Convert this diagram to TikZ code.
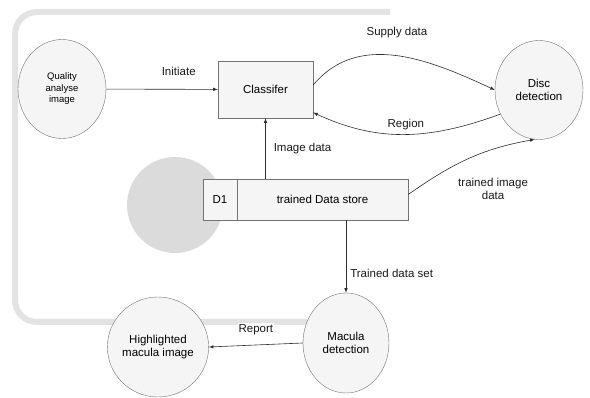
\documentclass[tikz,border=0pt]{standalone}
\usepackage{fontspec}
\setmainfont{Liberation Sans}
\usetikzlibrary{arrows,shapes.geometric}
\tikzset{
	proc/.style={ellipse,draw=gray!90!black,fill=gray!8,minimum width=88pt,minimum height=99pt,align=center,inner sep=0pt},
	box/.style={rectangle,draw=gray!90!black,fill=gray!8,minimum height=41pt,inner sep=0pt},
	lbl/.style={fill=white,inner sep=1pt,text=gray!20!black},
	flow/.style={->,draw=gray!35!black,line width=0.6pt}
}
\begin{document}
\begin{tikzpicture}[x=1pt,y=-1pt,font=\fontsize{11.5}{13.5}\selectfont,>=latex]
	\useasboundingbox (0,0) rectangle (590,398);
	% faint backdrop
	\draw [gray!22,line width=6pt,rounded corners=22pt] (390,12) -- (15,12) -- (15,322) -- (310,322);
	\fill [gray!28] (175,205) circle (48pt);
	%
	\node [proc,font=\fontsize{9.5}{11.5}\selectfont] (qai) at (62,89) {Quality\\analyse\\image};
	\node [box,minimum width=95pt,minimum height=57pt] (cls) at (265.5,89.5) {Classifer};
	\node [proc] (disc) at (539,90) {Disc\\detection};
	\node [box,minimum width=34pt] (d1) at (220,199.5) {D1};
	\node [box,minimum width=171pt] (store) at (322.5,199.5) {trained Data store};
	\node [proc,minimum width=86pt,minimum height=100pt] (mac) at (346,343) {Macula\\detection};
	\node [proc,minimum width=92pt,minimum height=100pt] (hmi) at (158,347) {Highlighted\\macula image};
	%
	%
	\draw [flow] (qai) -- node[lbl,pos=0.65,above=12pt] {Initiate} (cls);
	\draw [flow] ([yshift=4.5pt]cls.east) to[out=50,in=155] node[lbl,above=17pt] {Supply data} (disc.west);
	\draw [flow] (disc.212) to[out=200,in=-25] node[lbl,above=3pt] {Region} ([yshift=-23pt]cls.east);
	\draw [flow] (store.north -| cls) -- node[lbl,right=7pt] {Image data} (cls.south);
	\draw [flow] ([yshift=5pt]store.east) to[out=35,in=190] node[lbl,align=center,shift={(25pt,-30pt)}] {trained image\\data} (disc.265);
	\draw [flow] (store.south -| mac) -- node[lbl,pos=0.73,right=3pt] {Trained data set} (mac.north);
	\draw [flow] (mac.west) -- node[lbl,above=9pt] {Report} (hmi.east);
\end{tikzpicture}
\end{document}
